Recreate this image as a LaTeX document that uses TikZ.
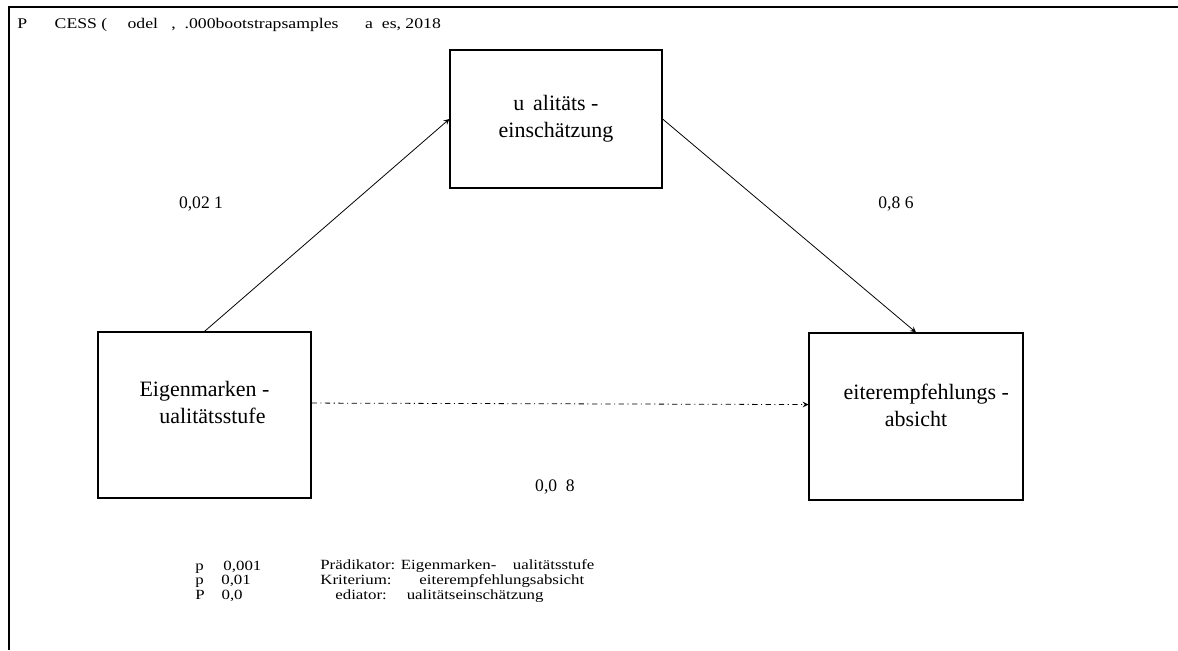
\documentclass[tikz,border=0pt]{standalone}
\usepackage{fontspec}
\setmainfont{Liberation Serif}
\newfontfamily\widefont[FakeStretch=1.2]{Liberation Serif}
\usetikzlibrary{arrows}

\begin{document}
\begin{tikzpicture}[
        x=0.02cm, y=-0.02cm,
        box/.style={draw,line width=0.7pt,minimum width=4.26cm,minimum height=3.32cm},
        boxtext/.style={align=center,font=\fontsize{12.5}{15.3}\selectfont},
        coef/.style={font=\fontsize{10}{12}\selectfont},
        note/.style={anchor=west,align=left,inner sep=0pt,font=\widefont\fontsize{8}{8.3}\selectfont},
        effect/.style={line width=0.45pt,->,>=stealth}
    ]
        \useasboundingbox (0,0) rectangle (1178,650);
        % Frame
        \draw[line width=0.85pt] (9,650) -- (9,7) -- (1178,7);
        \node[anchor=west,inner sep=0pt,font=\widefont\fontsize{8.4}{10}\selectfont] (title) at (17,25)
            {P\phantom{RO}\hspace{0.2em}CESS ( \phantom{M}odel \phantom{4},\phantom{5}.000bootstrapsamples\phantom{; H} a\phantom{y}es, 2018};

        % Boxes
        \node[box] (E) at (204.5,415) {};
        \node[boxtext] (Etext) at (204.5,404.5) {Eigenmarken -\\\phantom{Q}ualitätsstufe};
        \node[box,minimum width=4.24cm,minimum height=2.76cm,boxtext] (Q) at (556,119) {u\hspace{0.4em}alitäts -\\einschätzung};
        \node[box,minimum width=4.28cm,minimum height=3.34cm] (W) at (916,416.5) {};
        \node[boxtext] (Wtext) at (916,405) {\phantom{W}eiterempfehlungs -\\absicht};

        % Paths
        \draw[effect] (E.north) -- (Q.west);
        \draw[effect] (Q.east) -- (W.north);
        \draw[effect,dash pattern=on 3pt off 2pt on 0.6pt off 2pt] ([yshift=6.8pt]E.east) -- ([yshift=6.8pt]W.west);

        % Coefficients
        \node[coef] (a) at (201,204) {0,02 1};
        \node[coef] (b) at (896,204) {0,8 6};
        \node[coef] (c) at (555,487) {0,0\ \ 8};

        % Notes
        \node[note] (sig) at (195,581) {p\hspace{1.4em}0,001\\p\hspace{1.25em}0,01\\P\hspace{1.2em}0,0};
        \node[note] (vars) at (320,581) {Prädikator: Eigenmarken-\ \phantom{Q}ualitätsstufe\\
            Kriterium:\hspace{0.85em}\phantom{W}eiterempfehlungsabsicht\\
            \phantom{M}ediator:\hspace{0.55em}\phantom{Q}ualitätseinschätzung};
    \end{tikzpicture}
\end{document}
